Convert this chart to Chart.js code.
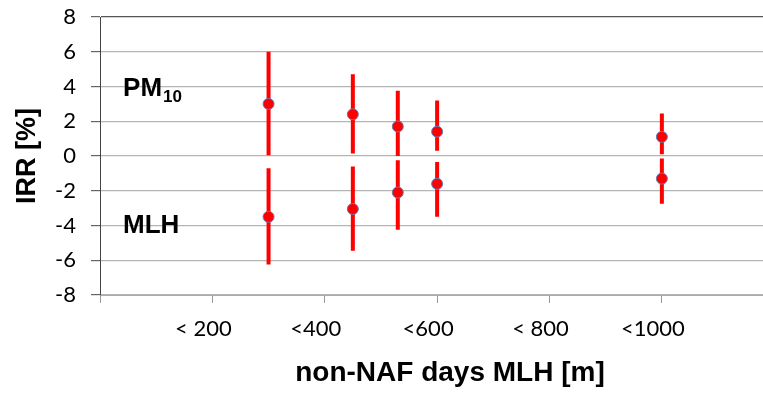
<!DOCTYPE html>
<html lang="en">
<head>
<meta charset="UTF-8" />
<title>IRR vs MLH</title>
<script src="https://cdn.jsdelivr.net/npm/chart.js"></script>
<style>
  html, body { margin: 0; padding: 0; background: #fff; overflow: hidden; }
  #wrap { width: 763px; height: 393px; }
</style>
</head>
<body>
<div id="wrap"><canvas id="irrChart"></canvas></div>
<script>
// MLH classes (m) where each estimate sits
const mlhValues = [300, 450, 530, 600, 1000];

// PM10 IRR [%] with lower/upper bounds
const pm10Irr = [3.0, 2.4, 1.7, 1.4, 1.1];
const pm10Low = [0.05, 0.15, 0.0, 0.3, 0.1];
const pm10High = [6.0, 4.7, 3.75, 3.2, 2.45];

// MLH IRR [%] with lower/upper bounds
const mlhIrr = [-3.5, -3.05, -2.1, -1.6, -1.3];
const mlhLow = [-6.25, -5.45, -4.25, -3.5, -2.75];
const mlhHigh = [-0.7, -0.6, -0.25, -0.35, -0.15];

// x tick positions and labels
const xTickValues = [0, 200, 400, 600, 800, 1000];
const xTickLabels = ['', '< 200', '<400', '<600', '< 800', '<1000'];

function errorSegments(xs, lo, hi) {
    const out = [];
    xs.forEach((x, i) => {
        out.push({ x: x, y: lo[i] });
        out.push({ x: x, y: hi[i] });
        out.push({ x: x, y: null });
    });
    return out;
}

function points(xs, ys) {
    return xs.map((x, i) => ({ x: x, y: ys[i] }));
}

const barStyle = {
    showLine: true,
    borderColor: '#ff0000',
    borderWidth: 4,
    pointRadius: 0,
    pointHoverRadius: 0,
    spanGaps: false,
    order: 2
};

const dotStyle = {
    showLine: false,
    backgroundColor: '#ff0000',
    borderColor: '#5b7fbf',
    borderWidth: 1,
    pointRadius: 5.5,
    order: 1
};

// group labels "PM10", "MLH" and the x axis title (the source plot is cropped on the right)
const textLayer = {
    id: 'textLayer',
    afterDatasetsDraw(chart) {
        const { ctx, chartArea, scales: { x, y } } = chart;
        const px = x.getPixelForValue(41);
        ctx.save();
        ctx.fillStyle = '#000';
        ctx.textAlign = 'left';
        ctx.textBaseline = 'alphabetic';
        ctx.font = 'bold 26px "Liberation Sans", Arial, sans-serif';
        const pmY = y.getPixelForValue(3.44);
        ctx.fillText('PM', px, pmY);
        const w = ctx.measureText('PM').width;
        ctx.font = 'bold 17px "Liberation Sans", Arial, sans-serif';
        ctx.fillText('10', px + w + 1, pmY + 6);
        ctx.font = 'bold 26px "Liberation Sans", Arial, sans-serif';
        ctx.fillText('MLH', px, y.getPixelForValue(-4.45));

        ctx.textAlign = 'center';
        ctx.textBaseline = 'middle';
        ctx.font = 'bold 28px "Liberation Sans", Arial, sans-serif';
        ctx.fillText('non-NAF days MLH [m]', chartArea.left + 350, chartArea.bottom + 78);
        ctx.restore();
    }
};

new Chart(document.getElementById('irrChart'), {
    type: 'scatter',
    data: {
        datasets: [
            Object.assign({ label: 'PM10 range', data: errorSegments(mlhValues, pm10Low, pm10High) }, barStyle),
            Object.assign({ label: 'MLH range', data: errorSegments(mlhValues, mlhLow, mlhHigh) }, barStyle),
            Object.assign({ label: 'PM10', data: points(mlhValues, pm10Irr) }, dotStyle),
            Object.assign({ label: 'MLH', data: points(mlhValues, mlhIrr) }, dotStyle)
        ]
    },
    options: {
        responsive: true,
        maintainAspectRatio: false,
        animation: false,
        layout: { autoPadding: false, padding: { top: 17, right: 0, left: 0, bottom: 0 } },
        plugins: {
            legend: { display: false },
            tooltip: { enabled: false }
        },
        scales: {
            x: {
                type: 'linear',
                min: 0,
                max: 1180,
                afterBuildTicks(scale) {
                    scale.ticks = xTickValues.map(v => ({ value: v }));
                },
                afterFit(scale) {
                    scale.height = 98;
                    scale.paddingLeft = 0;
                    scale.paddingRight = 0;
                },
                ticks: {
                    autoSkip: false,
                    maxRotation: 0,
                    padding: 13,
                    labelOffset: -9,
                    color: '#000',
                    font: { family: 'Lato, "Open Sans", sans-serif', size: 22 },
                    callback(v) {
                        const i = xTickValues.indexOf(v);
                        return i >= 0 ? xTickLabels[i] : '';
                    }
                },
                grid: {
                    drawOnChartArea: false,
                    drawTicks: true,
                    tickLength: 8,
                    tickColor: '#999'
                },
                border: { color: '#aaa', width: 1 }
            },
            y: {
                min: -8,
                max: 8,
                afterFit(scale) {
                    scale.width = 100;
                    scale.paddingTop = 0;
                    scale.paddingBottom = 0;
                },
                ticks: {
                    stepSize: 2,
                    padding: 15,
                    color: '#000',
                    font: { family: 'Lato, "Open Sans", sans-serif', size: 22 }
                },
                grid: {
                    color: ctx => ctx.tick && ctx.tick.value === 8 ? '#555' : '#b5b5b5',
                    lineWidth: 1.2,
                    tickLength: 9,
                    tickColor: '#666'
                },
                border: { color: '#444', width: 1 },
                title: {
                    display: true,
                    text: 'IRR [%]',
                    color: '#000',
                    padding: { top: 11, bottom: 0 },
                    font: { family: '"Liberation Sans", Arial, sans-serif', size: 27, weight: 'bold' }
                }
            }
        }
    },
    plugins: [textLayer]
});
</script>
</body>
</html>
